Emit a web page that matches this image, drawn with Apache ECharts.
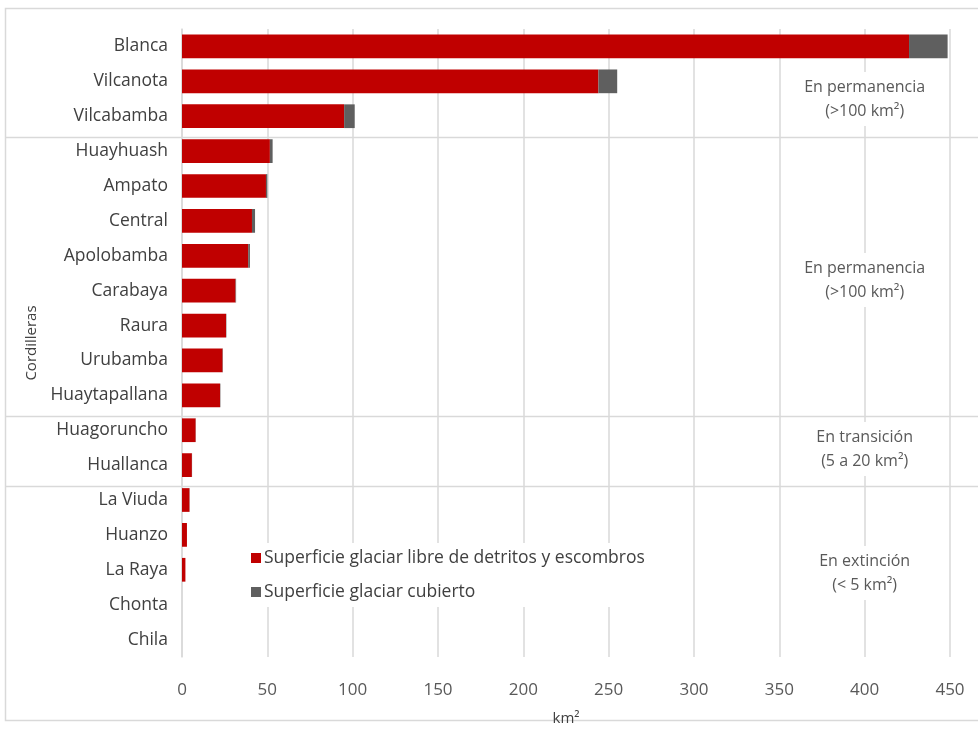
<!DOCTYPE html>
<html>
<head>
<meta charset="utf-8">
<script src="https://cdn.jsdelivr.net/npm/echarts@6/dist/echarts.min.js"></script>
<style>
  html, body { margin: 0; padding: 0; background: #ffffff; }
  #chart { width: 978px; height: 731px; }
</style>
</head>
<body>
<div id="chart"></div>
<script>
// Cordilleras glaciares: superficie (km²) por cordillera
const categories = ['Blanca', 'Vilcanota', 'Vilcabamba', 'Huayhuash', 'Ampato', 'Central',
  'Apolobamba', 'Carabaya', 'Raura', 'Urubamba', 'Huaytapallana', 'Huagoruncho',
  'Huallanca', 'La Viuda', 'Huanzo', 'La Raya', 'Chonta', 'Chila'];

// Superficie glaciar libre de detritos y escombros (km²)
const libre = [426, 244, 95, 51.5, 49.2, 41, 38.8, 31.4, 25.8, 23.8, 22.3, 8.0, 5.8, 4.4, 2.9, 2.0, 0, 0];

// Superficie glaciar cubierto (km²)
const cubierto = [22.6, 11, 6.2, 1.6, 0.8, 1.8, 1.0, 0.3, 0.2, 0.2, 0.2, 0.1, 0.1, 0.1, 0, 0, 0, 0];

const xTicks = { min: 0, max: 450, interval: 50 };

const seriesNames = ['Superficie glaciar libre de detritos y escombros', 'Superficie glaciar cubierto'];

// Group labels on the right (vertical centre in px)
const groups = [
  { text: 'En permanencia\n(>100 km²)', y: 99 },
  { text: 'En permanencia\n(>100 km²)', y: 280 },
  { text: 'En transición\n(5 a 20 km²)', y: 449 },
  { text: 'En extinción\n(< 5 km²)', y: 573 }
];
// Last category of each group, a separator is drawn below it
const groupBreaks = ['Vilcabamba', 'Huaytapallana', 'Huallanca'];

const FONT = '"Open Sans", Lato, sans-serif';
const chart = echarts.init(document.getElementById('chart'));

chart.setOption({
  backgroundColor: '#ffffff',
  animation: false,
  textStyle: { fontFamily: FONT },
  grid: { left: 182, right: 28, top: 29, bottom: 67, containLabel: false },
  legend: {
    orient: 'vertical',
    left: 245,
    top: 543,
    itemWidth: 10,
    itemHeight: 10,
    itemGap: 16,
    padding: [6, 8, 6, 6],
    backgroundColor: '#ffffff',
    icon: 'rect',
    textStyle: { fontSize: 17.5, color: '#404040', fontFamily: FONT, padding: [0, 0, 0, -2] },
    data: seriesNames
  },
  xAxis: {
    type: 'value',
    min: xTicks.min,
    max: xTicks.max,
    interval: xTicks.interval,
    name: 'km²',
    nameLocation: 'middle',
    nameGap: 54,
    nameTextStyle: { fontSize: 15, color: '#404040', fontFamily: FONT },
    axisLine: { show: false },
    axisTick: { show: false },
    axisLabel: { fontSize: 17, color: '#595959', margin: 25, fontFamily: FONT },
    splitLine: { show: true, lineStyle: { color: '#d9d9d9', width: 1.5 } }
  },
  yAxis: {
    type: 'category',
    inverse: true,
    data: categories,
    name: 'Cordilleras',
    nameLocation: 'middle',
    nameGap: 140,
    nameRotate: 90,
    nameTextStyle: { fontSize: 15, color: '#404040', fontFamily: FONT },
    axisLine: { show: true, lineStyle: { color: '#d9d9d9', width: 1.5 } },
    axisTick: { show: false },
    axisLabel: { fontSize: 17.5, color: '#404040', margin: 14, fontFamily: FONT }
  },
  series: [
    {
      name: seriesNames[0],
      type: 'bar',
      stack: 'total',
      data: libre,
      barCategoryGap: '32%',
      itemStyle: { color: '#c00000' }
    },
    {
      name: seriesNames[1],
      type: 'bar',
      stack: 'total',
      data: cubierto,
      barCategoryGap: '32%',
      itemStyle: { color: '#5f5f5f' }
    }
  ]
});

// Frame, group separators and group captions
function drawDecorations() {
  const elements = [];
  elements.push({
    type: 'rect',
    silent: true,
    shape: { x: 5.5, y: 8.5, width: 1000, height: 712 },
    style: { fill: 'none', stroke: '#d9d9d9', lineWidth: 1.5 },
    z: 0
  });
  groupBreaks.forEach(function (name) {
    const i = categories.indexOf(name);
    const y1 = chart.convertToPixel({ yAxisIndex: 0 }, categories[i]);
    const y2 = chart.convertToPixel({ yAxisIndex: 0 }, categories[i + 1]);
    const y = Math.round(y1 + (y2 - y1) * 0.6) + 0.5;
    elements.push({
      type: 'line',
      silent: true,
      shape: { x1: 6, y1: y, x2: 978, y2: y },
      style: { stroke: '#d9d9d9', lineWidth: 1.5 },
      z: 1
    });
  });
  const xText = chart.convertToPixel({ xAxisIndex: 0 }, 400);
  groups.forEach(function (g) {
    elements.push({
      type: 'text',
      silent: true,
      x: xText,
      y: g.y,
      style: {
        text: g.text,
        align: 'center',
        verticalAlign: 'middle',
        fontSize: 16,
        lineHeight: 24,
        fontFamily: FONT,
        fill: '#595959',
        backgroundColor: '#ffffff',
        padding: [3, 4]
      },
      z: 5
    });
  });
  chart.setOption({ graphic: elements });
}
drawDecorations();
</script>
</body>
</html>
